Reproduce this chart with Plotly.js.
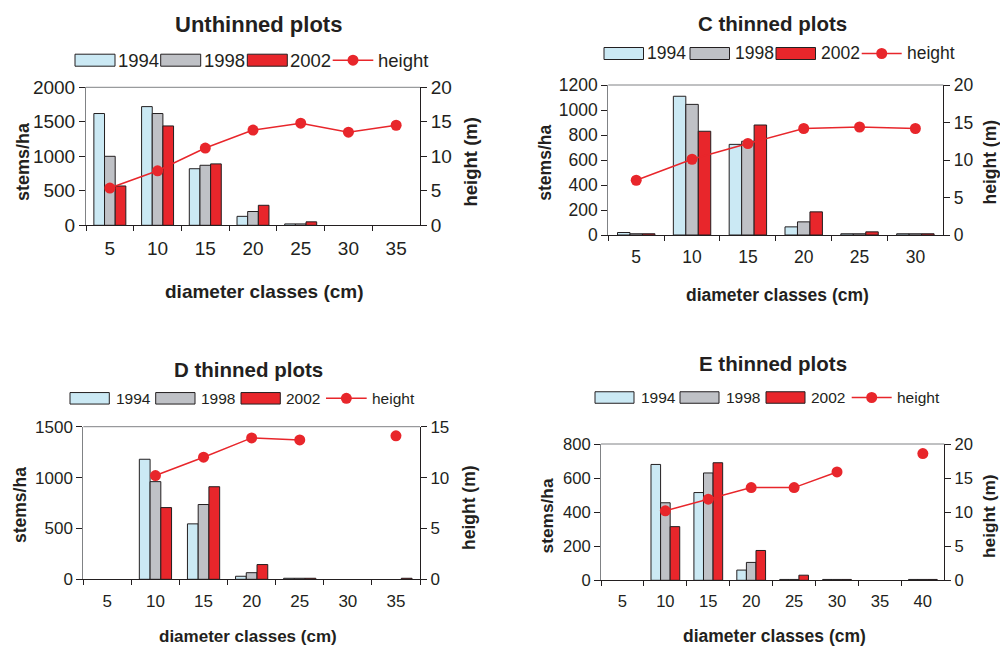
<!DOCTYPE html>
<html><head><meta charset="utf-8">
<script src="https://cdn.plot.ly/plotly-3.0.1.min.js"></script>
<style>html,body{margin:0;padding:0;background:#fff}#chart{width:1000px;height:647px}</style>
</head><body><div id="chart"></div>
<script>
// ---------- data ----------
const classesA = ['5','10','15','20','25','30','35'];
const unth1994 = [1620,1720,820,130,20,null,null];
const unth1998 = [1000,1620,870,200,20,null,null];
const unth2002 = [570,1440,890,290,50,null,null];
const unthHeight = [5.4,7.9,11.2,13.8,14.8,13.5,14.5];

const classesC = ['5','10','15','20','25','30'];
const c1994 = [20,1110,725,65,10,10];
const c1998 = [10,1045,750,105,10,10];
const c2002 = [10,830,880,185,25,10];
const cHeight = [7.3,10.1,12.2,14.2,14.4,14.2];

const classesD = ['5','10','15','20','25','30','35'];
const d1994 = [null,1180,545,30,10,null,null];
const d1998 = [null,960,735,65,10,null,null];
const d2002 = [null,705,910,145,10,null,10];
const dHeight = [null,10.2,12.0,13.9,13.7,null,14.1];

const classesE = ['5','10','15','20','25','30','35','40'];
const e1994 = [null,680,515,60,5,5,null,5];
const e1998 = [null,455,630,105,5,5,null,5];
const e2002 = [null,315,690,175,30,5,null,5];
const eHeight = [null,10.2,11.9,13.6,13.6,15.9,null,18.6];

const seriesNames = ['1994','1998','2002'];
const lineName = 'height';
const panelTitles = ['Unthinned plots','C thinned plots','D thinned plots','E thinned plots'];
const xTitle = 'diameter classes (cm)';
const yTitle = 'stems/ha';
const y2Title = 'height (m)';

// ---------- style / layout ----------
const W = 1000, H = 647;
const px = x => x / W, py = y => 1 - y / H;
const FONT = 'Liberation Sans, Arial, Helvetica, sans-serif';
const TXT = '#231f20';
const barColors = ['#cbe9f4', '#bfc1c6', '#e8262b'];
const lineColor = '#e8262b';
const gray = '#808285';

const panels = [
  {cats: classesA, bars: [unth1994, unth1998, unth2002], h: unthHeight,
   x0: 86, x1: 420, yT: 87.3, yB: 225.3, yMax: 2000, yDt: 500, hMax: 20, tf: 19,
   title: [258.8, 25, 22], xt: [264, 291.7, 19], yt: [23, 162, 18], y2t: [470.8, 161.7, 18.5],
   leg: {y: 60.2, fs: 18.5, bw: 40, bh: 12, boxes: [75, 160.7, 247.3], texts: [117, 202.5, 289], line: [332.7, 373.3], lt: 376.5}},
  {cats: classesC, bars: [c1994, c1998, c2002], h: cHeight,
   x0: 608.3, x1: 943.3, yT: 85, yB: 235, yMax: 1200, yDt: 200, hMax: 20, tf: 17.5,
   title: [772.5, 23, 20.5], xt: [777, 295, 17.5], yt: [545, 162.7, 17.5], y2t: [989, 162.5, 17.5],
   leg: {y: 53.5, fs: 17.5, bw: 39.5, bh: 12, boxes: [604, 690, 776], texts: [645.5, 733.5, 819.5], line: [861.7, 901.7], lt: 905.5}},
  {cats: classesD, bars: [d1994, d1998, d2002], h: dHeight,
   x0: 83.3, x1: 420, yT: 426.7, yB: 579.3, yMax: 1500, yDt: 500, hMax: 15, tf: 17,
   title: [248.7, 369.2, 20.5], xt: [248, 636, 17], yt: [20, 505, 17.5], y2t: [468.5, 507.5, 17.5],
   leg: {y: 398.3, fs: 15.5, bw: 39.3, bh: 11.5, boxes: [70, 155.7, 241], texts: [114.5, 199.5, 284.5], line: [326, 366.7], lt: 370.5}},
  {cats: classesE, bars: [e1994, e1998, e2002], h: eHeight,
   x0: 601, x1: 944.3, yT: 444, yB: 580.3, yMax: 800, yDt: 200, hMax: 20, tf: 16.6,
   title: [773.3, 363.3, 20.5], xt: [774.7, 636, 17.5], yt: [546.7, 515.7, 17.3], y2t: [989, 516, 17.3],
   leg: {y: 397.5, fs: 15.5, bw: 39, bh: 11.5, boxes: [595, 680, 766], texts: [639.5, 724.5, 810], line: [851.7, 891.7], lt: 895.5}}
];

const traces = [];
const layout = {
  width: W, height: H, margin: {l: 0, r: 0, t: 0, b: 0},
  paper_bgcolor: '#fff', plot_bgcolor: 'rgba(0,0,0,0)',
  showlegend: false, barmode: 'group', bargap: 0.33, bargroupgap: 0,
  font: {family: FONT, color: TXT},
  annotations: [], shapes: []
};

function ann(text, x, y, size, opts) {
  layout.annotations.push(Object.assign({
    text: text, xref: 'paper', yref: 'paper', x: px(x), y: py(y),
    xanchor: 'center', yanchor: 'middle', showarrow: false,
    font: {family: FONT, size: size, color: TXT}
  }, opts || {}));
}

panels.forEach((p, i) => {
  const xk = i === 0 ? 'x' : 'x' + (i + 1);
  const yl = 2 * i + 1, yr = 2 * i + 2;
  const ylk = yl === 1 ? 'y' : 'y' + yl;
  const yrk = 'y' + yr;
  const xaxisName = i === 0 ? 'xaxis' : 'xaxis' + (i + 1);
  const ylName = yl === 1 ? 'yaxis' : 'yaxis' + yl;
  const yrName = 'yaxis' + yr;

  p.bars.forEach((vals, k) => {
    traces.push({type: 'bar', x: p.cats, y: vals, name: seriesNames[k], xaxis: xk, yaxis: ylk,
      marker: {color: barColors[k], line: {color: TXT, width: 1}}, hoverinfo: 'skip'});
  });
  traces.push({type: 'scatter', mode: 'lines+markers', x: p.cats, y: p.h, name: lineName,
    xaxis: xk, yaxis: yrk, connectgaps: false,
    line: {color: lineColor, width: 1.5}, marker: {color: lineColor, size: 11}, hoverinfo: 'skip'});

  layout[xaxisName] = {
    domain: [px(p.x0), px(p.x1)], anchor: ylk, type: 'category',
    categoryorder: 'array', categoryarray: p.cats,
    range: [-0.5, p.cats.length - 0.5], tickson: 'boundaries',
    ticks: 'outside', ticklen: 5, tickcolor: TXT, tickwidth: 1,
    showline: true, linecolor: TXT, linewidth: 1, showgrid: false, zeroline: false,
    tickfont: {family: FONT, size: p.tf, color: TXT}, ticklabelstandoff: 6, fixedrange: true
  };
  layout[ylName] = {
    domain: [py(p.yB), py(p.yT)], anchor: xk, range: [0, p.yMax], dtick: p.yDt, tick0: 0,
    ticks: 'outside', ticklen: 6, tickcolor: TXT, tickwidth: 1,
    showline: true, linecolor: gray, linewidth: 1, showgrid: false, zeroline: false,
    tickfont: {family: FONT, size: p.tf, color: TXT}, fixedrange: true
  };
  layout[yrName] = {
    overlaying: ylk, side: 'right', anchor: xk, range: [0, p.hMax], dtick: 5, tick0: 0,
    ticks: 'outside', ticklen: 6, tickcolor: TXT, tickwidth: 1,
    showline: true, linecolor: TXT, linewidth: 1, showgrid: false, zeroline: false,
    tickfont: {family: FONT, size: p.tf, color: TXT}, fixedrange: true
  };
  // top frame line
  layout.shapes.push({type: 'line', xref: 'paper', yref: 'paper', x0: px(p.x0), x1: px(p.x1),
    y0: py(p.yT), y1: py(p.yT), line: {color: gray, width: 1}});

  // titles
  ann('<b>' + panelTitles[i] + '</b>', p.title[0], p.title[1], p.title[2]);
  ann('<b>' + xTitle + '</b>', p.xt[0], p.xt[1], p.xt[2]);
  ann('<b>' + yTitle + '</b>', p.yt[0], p.yt[1], p.yt[2], {textangle: -90});
  ann('<b>' + y2Title + '</b>', p.y2t[0], p.y2t[1], p.y2t[2], {textangle: -90});

  // legend
  const L = p.leg;
  L.boxes.forEach((bx, k) => {
    layout.shapes.push({type: 'rect', xref: 'paper', yref: 'paper',
      x0: px(bx), x1: px(bx + L.bw), y0: py(L.y + L.bh / 2), y1: py(L.y - L.bh / 2),
      fillcolor: barColors[k], line: {color: TXT, width: 1}});
    ann(seriesNames[k], L.texts[k], L.y, L.fs, {xanchor: 'left', borderpad: 0});
  });
  layout.shapes.push({type: 'line', xref: 'paper', yref: 'paper', x0: px(L.line[0]), x1: px(L.line[1]),
    y0: py(L.y), y1: py(L.y), line: {color: lineColor, width: 1.5}});
  layout.shapes.push({type: 'circle', xref: 'paper', yref: 'paper', xsizemode: 'pixel', ysizemode: 'pixel',
    xanchor: px((L.line[0] + L.line[1]) / 2), yanchor: py(L.y), x0: -5.5, x1: 5.5, y0: -5.5, y1: 5.5,
    fillcolor: lineColor, line: {color: lineColor, width: 0}});
  ann(lineName, L.lt, L.y, L.fs, {xanchor: 'left', borderpad: 0});
});

Plotly.newPlot('chart', traces, layout, {staticPlot: true, displayModeBar: false});
</script>
</body></html>
